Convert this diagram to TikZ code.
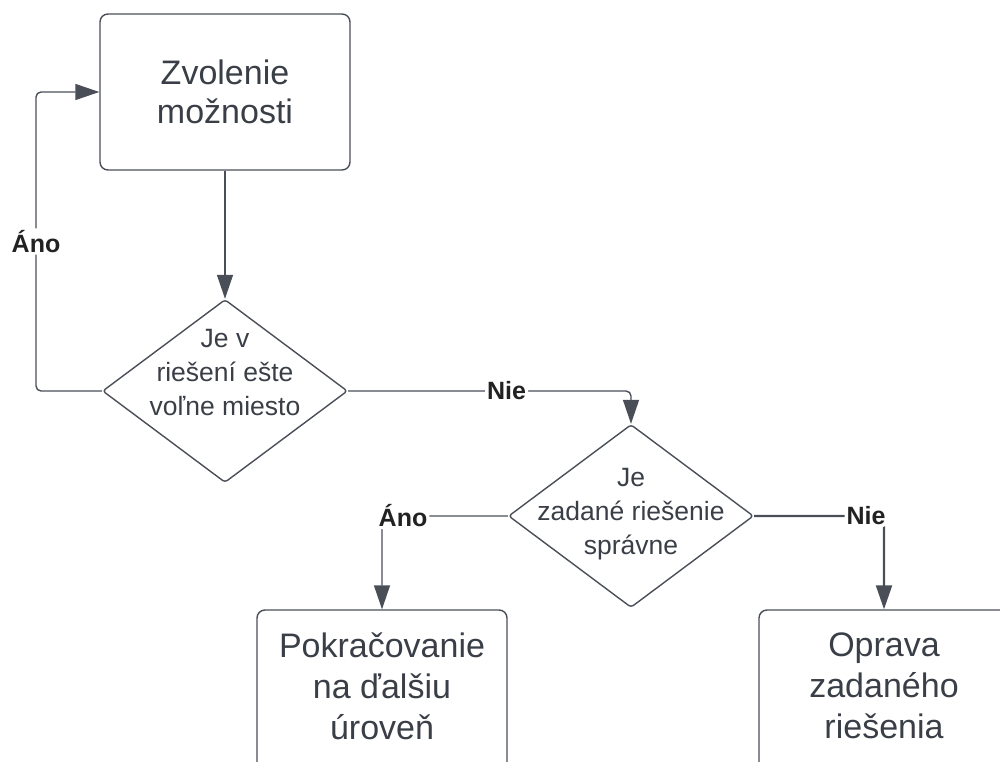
\documentclass[tikz,border=0pt]{standalone}
\usepackage{fontspec}
\setmainfont{Liberation Sans}
\usetikzlibrary{arrows.meta,shapes.geometric,calc}
\definecolor{ln}{HTML}{4A4F57}
\definecolor{tx}{HTML}{3A3F47}
\definecolor{lb}{HTML}{222222}
\tikzset{
  box/.style={draw=ln, line width=1.4pt, rounded corners=8pt, minimum width=250pt, minimum height=156pt, inner sep=0pt},
  bigtxt/.style={text=tx, align=center, font=\fontsize{34}{39}\selectfont},
  diam/.style={draw=ln, line width=1.4pt, shape=diamond, minimum width=245pt, minimum height=183pt, inner sep=0pt, rounded corners=3pt},
  dtxt/.style={text=tx, align=center, font=\fontsize{26.5}{34}\selectfont},
  lbl/.style={fill=white, text=lb, inner sep=2pt, font=\fontsize{25}{27}\selectfont\bfseries},
  conn/.style={draw=ln, line width=1.4pt, rounded corners=5pt, -{Triangle[length=24pt,width=16pt]}},
}
\begin{document}
\begin{tikzpicture}[x=1pt,y=-1pt]
\useasboundingbox (0,0) rectangle (1000,762);
\clip (0,0) rectangle (1000,762);
\node[box] (zvol) at (225,92) {};
\node[bigtxt] (zvolt) at (zvol.center) {Zvolenie\\možnosti};
\node[diam] (d1) at (225,391) {};
\node[dtxt] (d1t) at ([yshift=18pt]d1.center) {Je v\\riešení ešte\\voľne miesto};
\node[diam] (d2) at (631,516) {};
\node[dtxt] (d2t) at ([yshift=2pt]d2.center) {Je\\zadané riešenie\\správne};
\node[box, minimum height=160pt] (pok) at (382,690) {};
\node[bigtxt, font=\fontsize{34}{41}\selectfont] (pokt) at ([yshift=4pt]pok.center) {Pokračovanie\\na ďalšiu\\úroveň};
\node[box, minimum height=160pt] (opr) at (884,690) {};
\node[bigtxt, font=\fontsize{34}{41}\selectfont] (oprt) at ([yshift=4pt]opr.center) {Oprava\\zadaného\\riešenia};
\coordinate (lp) at (36,391);
\draw[conn] (zvol.south) -- (d1.north);
\draw[conn] (d1.west) -- (lp) |- node[lbl, pos=0.25] (l1) {Áno} (zvol.west);
\draw[conn] (d1.east) -| node[lbl, pos=0.28] (l2) {Nie} (d2.north);
\draw[conn] (d2.west) -| node[lbl, pos=0.5, xshift=21pt] (l3) {Áno} (pok.north);
\draw[conn, line width=2.2pt] (d2.east) -| node[lbl, pos=0.5, xshift=-18pt] (l4) {Nie} (opr.north);
\end{tikzpicture}
\end{document}
